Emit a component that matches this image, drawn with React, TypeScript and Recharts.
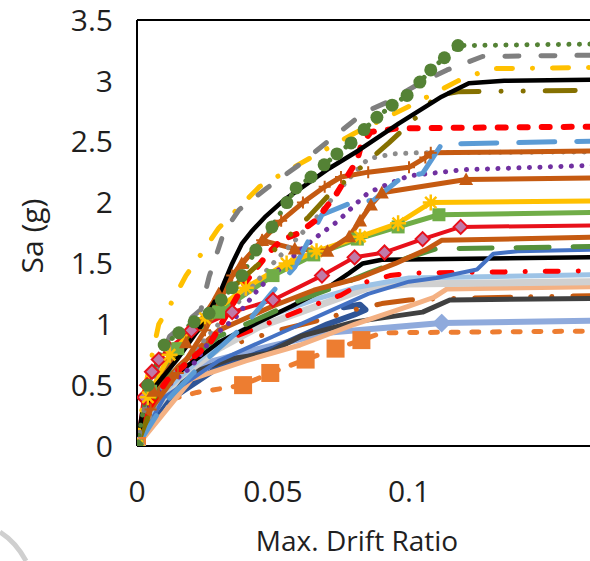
import React from "react";
import { LineChart, Line, XAxis, YAxis, ReferenceLine } from "recharts";

type Pt = [number, number];

const X_TICKS = [0, 0.05, 0.1];
const Y_TICKS = [0, 0.5, 1, 1.5, 2, 2.5, 3, 3.5];

// IDA curves: [max drift ratio, Sa (g)]
const GREEN_DOTS: Pt[] = [[0, 0], [0.004, 0.5], [0.01, 0.83], [0.0154, 0.93], [0.021, 1.02], [0.0265, 1.09], [0.031, 1.2], [0.035, 1.3], [0.0386, 1.4], [0.0437, 1.61], [0.0496, 1.8], [0.0551, 2.0], [0.0585, 2.12], [0.064, 2.21], [0.0688, 2.31], [0.0735, 2.4], [0.0787, 2.49], [0.0835, 2.6], [0.0882, 2.7], [0.0938, 2.8], [0.0993, 2.88], [0.104, 2.99], [0.108, 3.09], [0.113, 3.19], [0.118, 3.29], [0.2, 3.31]];
const GRAY_DASH: Pt[] = [[0, 0], [0.004, 0.45], [0.012, 0.9], [0.0235, 1.12], [0.0265, 1.39], [0.032, 1.76], [0.0375, 1.94], [0.0478, 2.12], [0.0596, 2.31], [0.0706, 2.51], [0.0835, 2.74], [0.0915, 2.82], [0.104, 2.98], [0.114, 3.09], [0.127, 3.2], [0.2, 3.22]];
const YELLOW_DASHDOT: Pt[] = [[0, 0], [0.0026, 0.44], [0.008, 1.0], [0.013, 1.19], [0.018, 1.4], [0.024, 1.59], [0.03, 1.79], [0.0375, 1.96], [0.045, 2.13], [0.06, 2.32], [0.08, 2.57], [0.1, 2.79], [0.118, 3.0], [0.13, 3.1], [0.2, 3.12]];
const BLACK_1: Pt[] = [[0, 0], [0.002, 0.28], [0.0063, 0.48], [0.0147, 0.71], [0.024, 1.0], [0.0309, 1.28], [0.035, 1.5], [0.0385, 1.66], [0.042, 1.76], [0.047, 1.88], [0.054, 2.02], [0.0706, 2.28], [0.0816, 2.43], [0.0963, 2.65], [0.112, 2.87], [0.122, 2.98], [0.135, 3.0], [0.2, 3.02]];
const OLIVE: Pt[] = [[0, 0], [0.01, 0.6], [0.03, 1.2], [0.05, 1.6], [0.063, 1.88], [0.07, 2.05], [0.0926, 2.49], [0.1055, 2.76], [0.11, 2.88], [0.118, 2.91], [0.2, 2.93]];
const RED_DASH: Pt[] = [[0, 0], [0.004, 0.3], [0.011, 0.54], [0.027, 0.85], [0.04, 1.35], [0.0485, 1.59], [0.053, 1.69], [0.0596, 1.75], [0.066, 1.86], [0.073, 2.06], [0.081, 2.35], [0.0825, 2.48], [0.086, 2.58], [0.096, 2.61], [0.2, 2.63]];
const BLUE_DASH: Pt[] = [[0, 0], [0.01, 0.35], [0.025, 0.7], [0.04, 1.0], [0.0496, 1.26], [0.058, 1.47], [0.068, 1.9], [0.079, 2.0], [0.087, 2.02], [0.097, 2.2], [0.105, 2.24], [0.112, 2.48], [0.2, 2.52]];
const BROWN_TICK: Pt[] = [[0, 0], [0.005, 0.3], [0.015, 0.6], [0.025, 0.95], [0.035, 1.4], [0.046, 1.69], [0.053, 1.85], [0.061, 2.0], [0.069, 2.13], [0.075, 2.21], [0.085, 2.25], [0.1, 2.29], [0.106, 2.37], [0.108, 2.41], [0.2, 2.43]];
const GRAY_DOT: Pt[] = [[0, 0], [0.01, 0.5], [0.03, 1.0], [0.05, 1.5], [0.065, 1.85], [0.078, 2.2], [0.085, 2.36], [0.094, 2.4], [0.104, 2.41], [0.2, 2.42]];
const PURPLE_DOT: Pt[] = [[0, 0], [0.006, 0.4], [0.02, 0.65], [0.028, 0.9], [0.036, 1.05], [0.045, 1.3], [0.057, 1.55], [0.065, 1.7], [0.074, 1.85], [0.08, 1.98], [0.085, 2.08], [0.09, 2.13], [0.1, 2.22], [0.12, 2.27], [0.2, 2.33]];
const BROWN_TRI: Pt[] = [[0, 0], [0.006, 0.45], [0.018, 0.85], [0.03, 1.25], [0.0385, 1.5], [0.046, 1.69], [0.058, 1.62], [0.07, 1.6], [0.078, 1.72], [0.082, 1.85], [0.086, 1.98], [0.09, 2.08], [0.121, 2.19], [0.2, 2.21]];
const YELLOW_STAR: Pt[] = [[0, 0], [0.004, 0.4], [0.012, 0.75], [0.025, 1.05], [0.04, 1.3], [0.055, 1.5], [0.066, 1.6], [0.082, 1.72], [0.096, 1.83], [0.108, 2.0], [0.2, 2.02]];
const GREEN_SQ: Pt[] = [[0, 0], [0.005, 0.45], [0.015, 0.8], [0.03, 1.1], [0.05, 1.4], [0.065, 1.57], [0.081, 1.7], [0.096, 1.8], [0.111, 1.9], [0.2, 1.93]];
const RED_DIAMOND: Pt[] = [[0, 0], [0.0026, 0.4], [0.0037, 0.5], [0.0055, 0.61], [0.008, 0.71], [0.0118, 0.8], [0.02, 0.95], [0.035, 1.1], [0.05, 1.2], [0.068, 1.4], [0.08, 1.55], [0.091, 1.59], [0.105, 1.7], [0.119, 1.8], [0.2, 1.82]];
const BROWN_THICK: Pt[] = [[0, 0], [0.005, 0.35], [0.015, 0.65], [0.03, 0.95], [0.05, 1.15], [0.065, 1.28], [0.0816, 1.38], [0.095, 1.5], [0.106, 1.61], [0.112, 1.69], [0.2, 1.73]];
const GREEN_DASH: Pt[] = [[0, 0], [0.01, 0.55], [0.03, 0.9], [0.05, 1.1], [0.06, 1.2], [0.072, 1.3], [0.085, 1.42], [0.1, 1.55], [0.11, 1.62], [0.2, 1.65]];
const BLUE_SOLID: Pt[] = [[0, 0], [0.01, 0.4], [0.03, 0.7], [0.05, 0.9], [0.07, 1.1], [0.085, 1.25], [0.1, 1.35], [0.11, 1.38], [0.125, 1.45], [0.131, 1.58], [0.14, 1.6], [0.2, 1.63]];
const BLACK_2: Pt[] = [[0, 0], [0.005, 0.35], [0.015, 0.6], [0.03, 0.85], [0.045, 1.02], [0.057, 1.15], [0.07, 1.3], [0.078, 1.42], [0.083, 1.5], [0.09, 1.53], [0.2, 1.56]];
const RED_DASHDOT: Pt[] = [[0, 0], [0.005, 0.3], [0.01, 0.55], [0.025, 0.8], [0.044, 0.97], [0.063, 1.14], [0.075, 1.24], [0.083, 1.34], [0.093, 1.4], [0.1, 1.42], [0.2, 1.45]];
const LIGHT_BLUE: Pt[] = [[0, 0], [0.01, 0.45], [0.03, 0.85], [0.05, 1.08], [0.065, 1.2], [0.08, 1.3], [0.1, 1.38], [0.2, 1.42]];
const LIGHT_GRAY: Pt[] = [[0, 0], [0.005, 0.25], [0.015, 0.55], [0.03, 0.8], [0.045, 0.98], [0.06, 1.1], [0.075, 1.22], [0.085, 1.3], [0.1, 1.33], [0.2, 1.36]];
const PEACH: Pt[] = [[0, 0], [0.02, 0.55], [0.04, 0.7], [0.06, 0.83], [0.08, 1.0], [0.1, 1.15], [0.109, 1.22], [0.114, 1.29], [0.2, 1.32]];
const DARK_GRAY: Pt[] = [[0, 0], [0.005, 0.3], [0.02, 0.6], [0.035, 0.72], [0.048, 0.76], [0.06, 0.9], [0.08, 1.02], [0.105, 1.1], [0.115, 1.2], [0.2, 1.22]];
const BROWN_DASHDOT: Pt[] = [[0, 0], [0.01, 0.45], [0.03, 0.8], [0.052, 0.95], [0.07, 1.05], [0.08, 1.12], [0.09, 1.17], [0.1, 1.2], [0.11, 1.21], [0.2, 1.25]];
const NAVY: Pt[] = [[0, 0], [0.01, 0.35], [0.03, 0.65], [0.05, 0.8], [0.07, 1.0], [0.08, 1.08], [0.084, 1.12], [0.082, 1.16], [0.076, 1.14]];
const CORNFLOWER: Pt[] = [[0, 0], [0.004, 0.3], [0.012, 0.5], [0.025, 0.68], [0.045, 0.8], [0.07, 0.93], [0.112, 1.01], [0.2, 1.04]];
const ORANGE_SQ: Pt[] = [[0, 0], [0.003, 0.22], [0.012, 0.38], [0.022, 0.44], [0.039, 0.5], [0.049, 0.6], [0.062, 0.71], [0.073, 0.8], [0.0825, 0.87], [0.09, 0.93], [0.2, 0.95]];

type Shape = "circle" | "square" | "diamond" | "triangle" | "star" | "plus";

type Series = {
  name: string;
  data: Pt[];
  color: string;
  width: number;
  dash?: string;
  shape?: Shape;
  size?: number;
  fill?: string;
  marks?: number[];
};

const DOTTED = "0.1 10.4";

const SERIES: Series[] = [
  { name: "orangeSq", data: ORANGE_SQ, color: "#ed7d31", width: 5, dash: "7 13.7", shape: "square", size: 18, marks: [0, 4, 5, 6, 7, 8] },
  { name: "cornflower", data: CORNFLOWER, color: "#8faadc", width: 6, shape: "diamond", size: 8, marks: [0, 6] },
  { name: "navy", data: NAVY, color: "#2f5597", width: 6 },
  { name: "brownDashDot", data: BROWN_DASHDOT, color: "#c55a11", width: 5, dash: "36 20 0.1 21 0.1 21" },
  { name: "darkGray", data: DARK_GRAY, color: "#404040", width: 5 },
  { name: "peach", data: PEACH, color: "#f4b183", width: 5 },
  { name: "lightGray", data: LIGHT_GRAY, color: "#d0d0d0", width: 7 },
  { name: "lightBlue", data: LIGHT_BLUE, color: "#9dc3e6", width: 5 },
  { name: "redDashDot", data: RED_DASHDOT, color: "#ff0000", width: 5, dash: "13 20 0.1 20" },
  { name: "black2", data: BLACK_2, color: "#000000", width: 4.5 },
  { name: "blueSolid", data: BLUE_SOLID, color: "#4472c4", width: 4 },
  { name: "greenDash", data: GREEN_DASH, color: "#56913c", width: 5, dash: "33 24" },
  { name: "brownThick", data: BROWN_THICK, color: "#c55a11", width: 5 },
  { name: "redDiamond", data: RED_DIAMOND, color: "#e8101a", width: 4, shape: "diamond", size: 7, fill: "#c07aa8" },
  { name: "greenSq", data: GREEN_SQ, color: "#70ad47", width: 5, shape: "square", size: 13 },
  { name: "yellowStar", data: YELLOW_STAR, color: "#ffc000", width: 5, shape: "star", size: 8 },
  { name: "brownTri", data: BROWN_TRI, color: "#c55a11", width: 5, shape: "triangle", size: 7 },
  { name: "purpleDot", data: PURPLE_DOT, color: "#7030a0", width: 5, dash: DOTTED },
  { name: "grayDot", data: GRAY_DOT, color: "#8c8c8c", width: 5, dash: DOTTED },
  { name: "brownTick", data: BROWN_TICK, color: "#c55a11", width: 5, shape: "plus", size: 6 },
  { name: "blueDash", data: BLUE_DASH, color: "#5b9bd5", width: 5, dash: "36 22" },
  { name: "redDash", data: RED_DASH, color: "#ff0000", width: 6, dash: "8 14" },
  { name: "olive", data: OLIVE, color: "#857000", width: 5, dash: "30 22 0.1 22 0.1 22" },
  { name: "black1", data: BLACK_1, color: "#000000", width: 4.5 },
  { name: "yellowDashDot", data: YELLOW_DASHDOT, color: "#ffc000", width: 5, dash: "16 20 0.1 20" },
  { name: "grayDash", data: GRAY_DASH, color: "#7f7f7f", width: 5, dash: "14 22" },
  { name: "greenDots", data: GREEN_DOTS, color: "#548235", width: 5, dash: DOTTED, shape: "circle", size: 6.5 },
];

function makeDot(s: Series) {
  return (p: any) => {
    const { cx, cy, index } = p;
    const last = s.data.length - 1;
    const show = s.marks ? s.marks.includes(index) : index < last;
    if (!show || cx == null || cy == null) return <g key={index} />;
    const r = s.size ?? 5;
    const fill = s.fill ?? s.color;
    switch (s.shape) {
      case "circle":
        return <circle key={index} cx={cx} cy={cy} r={r} fill={fill} />;
      case "square":
        return <rect key={index} x={cx - r / 2} y={cy - r / 2} width={r} height={r} fill={fill} />;
      case "diamond":
        return (
          <polygon
            key={index}
            points={`${cx},${cy - r} ${cx + r},${cy} ${cx},${cy + r} ${cx - r},${cy}`}
            fill={fill}
            stroke={s.color}
            strokeWidth={2}
          />
        );
      case "triangle":
        return (
          <polygon
            key={index}
            points={`${cx},${cy - r} ${cx + r},${cy + r * 0.8} ${cx - r},${cy + r * 0.8}`}
            fill={fill}
          />
        );
      case "star":
        return (
          <path
            key={index}
            d={`M${cx - r},${cy} H${cx + r} M${cx},${cy - r} V${cy + r} M${cx - r * 0.7},${cy - r * 0.7} L${cx + r * 0.7},${cy + r * 0.7} M${cx - r * 0.7},${cy + r * 0.7} L${cx + r * 0.7},${cy - r * 0.7}`}
            stroke={fill}
            strokeWidth={2.5}
          />
        );
      case "plus":
        return (
          <path
            key={index}
            d={`M${cx - r},${cy} H${cx + r} M${cx},${cy - r} V${cy + r}`}
            stroke={fill}
            strokeWidth={2}
          />
        );
      default:
        return <g key={index} />;
    }
  };
}

const FONT = "'Open Sans', sans-serif";
const TICK = { fill: "#1f1f1f", fontSize: 30, fontFamily: FONT };

export default function App() {
  return (
    <div
      style={{
        position: "absolute",
        left: 0,
        top: 0,
        width: 590,
        height: 561,
        overflow: "hidden",
        background: "#fff",
      }}
    >
      <LineChart width={700} height={561} margin={{ top: 20, right: 19, bottom: 55, left: 37 }}>
        <XAxis
          dataKey="x"
          type="number"
          domain={[0, 0.2]}
          ticks={X_TICKS}
          tick={TICK}
          tickLine={false}
          tickSize={0}
          tickMargin={35}
          height={60}
          axisLine={{ stroke: "#000", strokeWidth: 2 }}
          allowDataOverflow
        />
        <YAxis
          type="number"
          domain={[0, 3.5]}
          ticks={Y_TICKS}
          tick={TICK}
          tickLine={false}
          tickSize={0}
          tickMargin={24}
          width={100}
          axisLine={{ stroke: "#000", strokeWidth: 2 }}
          allowDataOverflow
        />
        <ReferenceLine y={3.5} stroke="#000" strokeWidth={2} />
        {SERIES.map((s) => (
          <Line
            key={s.name}
            data={s.data.map(([x, y]) => ({ x, y }))}
            dataKey="y"
            type="linear"
            stroke={s.color}
            strokeWidth={s.width}
            strokeDasharray={s.dash}
            strokeLinecap="round"
            strokeLinejoin="round"
            dot={s.shape ? makeDot(s) : false}
            activeDot={false}
            isAnimationActive={false}
          />
        ))}
      </LineChart>
      <div
        style={{
          position: "absolute",
          left: 31,
          top: 236,
          transform: "translate(-50%, -50%) rotate(-90deg)",
          fontFamily: FONT,
          fontSize: 30,
          color: "#1f1f1f",
          whiteSpace: "nowrap",
        }}
      >
        Sa (g)
      </div>
      <div
        style={{
          position: "absolute",
          left: 357,
          top: 540,
          transform: "translate(-50%, -50%)",
          fontFamily: FONT,
          fontSize: 28,
          color: "#1f1f1f",
          whiteSpace: "nowrap",
        }}
      >
        Max. Drift Ratio
      </div>
      <svg style={{ position: "absolute", left: 0, top: 520 }} width={40} height={41}>
        <path d="M0,12 Q16,22 26,41" fill="none" stroke="#cfcfcf" strokeWidth={5} />
      </svg>
    </div>
  );
}
